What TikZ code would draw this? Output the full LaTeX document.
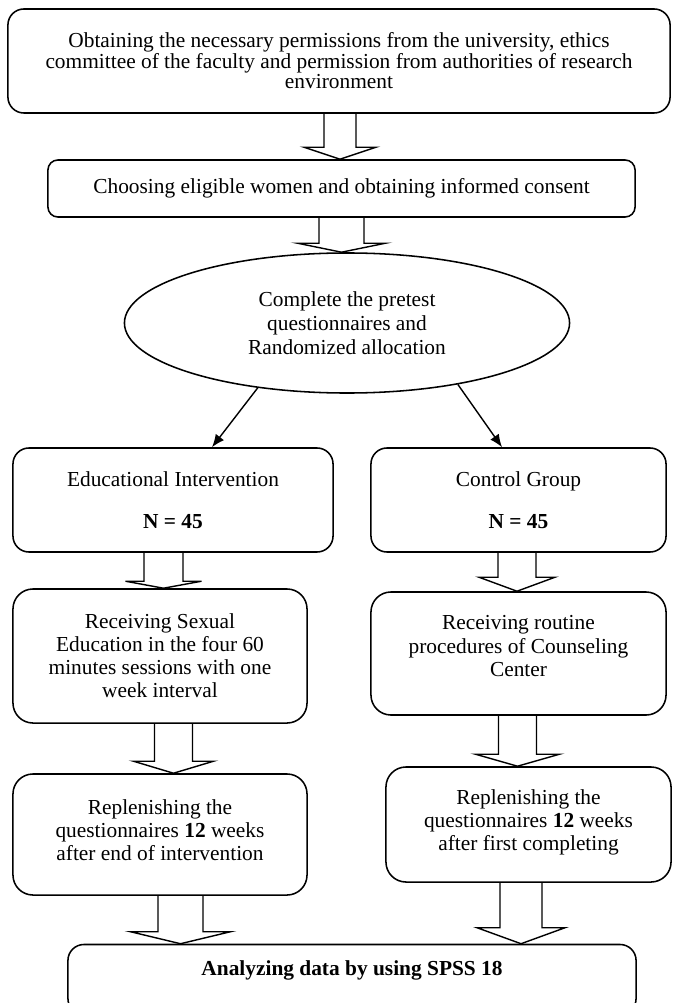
\documentclass[tikz,border=0pt]{standalone}
\usepackage{fontspec}
\setmainfont{Liberation Serif}
\usetikzlibrary{calc,shapes.geometric,arrows.meta}

\begin{document}
\begin{tikzpicture}[x=0.025cm,y=-0.025cm,
		font=\fontsize{15.2}{16.4}\selectfont,
		box/.style={draw,line width=1.1pt,rounded corners=0.4cm,align=center,inner sep=2pt},
		oval/.style={draw,ellipse,line width=1.1pt,align=center,inner sep=0pt},
		hollow/.style={draw,line width=1pt,line join=miter},
		split/.style={line width=1pt,-{Latex[length=0.32cm,width=0.26cm]}}]
		\useasboundingbox (0,0) rectangle (673,1003);
		\node[box,font=\fontsize{15.2}{14.6}\selectfont,minimum width=16.55cm,minimum height=2.6cm] (perm) at (339,61)
			{Obtaining the necessary permissions from the university, ethics\\
			committee of the faculty and permission from authorities of research\\
			environment};
		\node[box,rounded corners=0.25cm,minimum width=14.675cm,minimum height=1.425cm] (choose) at (341.5,188.5)
			{Choosing eligible women and obtaining informed consent};
		\node[oval,font=\fontsize{15.2}{17}\selectfont,minimum width=11.125cm,minimum height=3.5cm] (pretest) at (347,323)
			{Complete the pretest\\questionnaires and\\Randomized allocation};
		\node[box,minimum width=8cm,minimum height=2.6cm] (educ) at (173,500)
			{Educational Intervention\\[0.47cm]\textbf{N = 45}};
		\node[box,minimum width=7.375cm,minimum height=2.6cm] (ctrl) at (518.5,500)
			{Control Group\\[0.47cm]\textbf{N = 45}};
		\node[box,rounded corners=0.5cm,minimum width=7.35cm,minimum height=3.35cm] (sexed) at (160,656)
			{Receiving Sexual\\Education in the four 60\\minutes sessions with one\\week interval};
		\node[box,rounded corners=0.5cm,minimum width=7.375cm,minimum height=3.075cm] (routine) at (518.5,653.5)
			{Receiving routine\\procedures of Counseling\\Center\\[-0.2cm]\mbox{}};
		\node[box,rounded corners=0.5cm,minimum width=7.35cm,minimum height=3.025cm] (refill) at (160,834.5)
			{Replenishing the\\questionnaires \textbf{12} weeks\\after end of intervention\\[-0.35cm]\mbox{}};
		\node[box,rounded corners=0.5cm,minimum width=7.125cm,minimum height=2.875cm] (recheck) at (528.5,824.5)
			{Replenishing the\\questionnaires \textbf{12} weeks\\after first completing\\[-0.35cm]\mbox{}};
		\node[box,minimum width=14.2cm,minimum height=1.75cm] (spss) at (352,979.5)
			{\textbf{Analyzing data by using SPSS 18}\\\mbox{}};
		% hollow block arrows: from/to/x/shaft/head/head length
		\foreach \s/\t/\x/\w/\h/\l in {perm/choose/340/16/36/12,
				choose/pretest/341.5/22.5/44/9,
				educ/sexed/163.5/19.5/38/7,
				ctrl/routine/517/19/38/14,
				sexed/refill/173.5/19/40/12,
				routine/recheck/517.5/19/42/12,
				refill/spss/180.5/22.5/50/12,
				recheck/spss/521/21/44/16}{
			\coordinate (a) at (\x,0);
			\path (a |- \t.north) coordinate (tip) ++(0,-\l) coordinate (base);
			\draw[hollow]
				($(a |- \s.south)+(-\w,0)$) -- ($(base)+(-\w,0)$) -- ($(base)+(-\h,0)$) -- (tip)
				-- ($(base)+(\h,0)$) -- ($(base)+(\w,0)$) -- ($(a |- \s.south)+(\w,0)$);
			}
		\draw[split] (pretest.216) -- ($(educ.north)+(39,0)$);
		\draw[split] (pretest.331) -- ($(ctrl.north)+(-16.5,0)$);
\end{tikzpicture}
\end{document}
